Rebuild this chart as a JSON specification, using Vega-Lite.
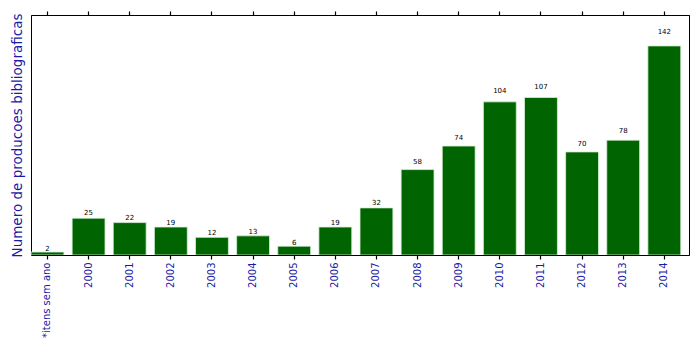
{
  "$schema": "https://vega.github.io/schema/vega-lite/v6.json",
  "width": 658,
  "height": 240,
  "padding": {"left": 31, "top": 15, "right": 10, "bottom": 99},
  "autosize": {"type": "none"},
  "config": {
    "view": {"stroke": "black", "strokeWidth": 1},
    "font": "DejaVu Sans"
  },
  "data": {
    "values": [
      {"ano": "*itens sem ano", "n": 2},
      {"ano": "2000", "n": 25},
      {"ano": "2001", "n": 22},
      {"ano": "2002", "n": 19},
      {"ano": "2003", "n": 12},
      {"ano": "2004", "n": 13},
      {"ano": "2005", "n": 6},
      {"ano": "2006", "n": 19},
      {"ano": "2007", "n": 32},
      {"ano": "2008", "n": 58},
      {"ano": "2009", "n": 74},
      {"ano": "2010", "n": 104},
      {"ano": "2011", "n": 107},
      {"ano": "2012", "n": 70},
      {"ano": "2013", "n": 78},
      {"ano": "2014", "n": 142}
    ]
  },
  "resolve": {"axis": {"x": "independent"}},
  "layer": [
    {
      "mark": {"type": "bar", "color": "#006400", "stroke": "#d8f0d8", "strokeWidth": 0.8},
      "encoding": {
        "x": {
          "field": "ano", "type": "nominal", "sort": null,
          "scale": {"paddingInner": 0.2, "paddingOuter": 0.1, "align": 0},
          "axis": {
            "title": null, "labelAngle": -90, "labelColor": "#1a1aa8", "labelFontSize": 10,
            "ticks": true, "tickColor": "black", "tickWidth": 1.2, "tickSize": 4, "labelPadding": 3,
            "domainColor": "black", "labelBaseline": "middle", "zindex": 1, "orient": "bottom"
          }
        },
        "y": {
          "field": "n", "type": "quantitative",
          "scale": {"domain": [0, 163], "nice": false},
          "axis": {
            "title": "Numero de producoes bibliograficas", "titleColor": "#1a1aa8",
            "titleFontSize": 13.5, "titleFontWeight": "normal", "titlePadding": 7,
            "labels": false, "ticks": false, "grid": false, "domain": false
          }
        }
      }
    },
    {
      "transform": [{"calculate": "datum.n * 1.05", "as": "pos"}],
      "mark": {"type": "text", "fontSize": 7, "baseline": "alphabetic", "color": "black", "dy": -1},
      "encoding": {
        "x": {
          "field": "ano", "type": "nominal", "sort": null,
          "axis": {
            "title": null, "labels": false, "ticks": true, "tickColor": "black", "tickWidth": 1.2,
            "tickSize": 4, "domainColor": "black", "orient": "top", "zindex": 1
          }
        },
        "y": {"field": "pos", "type": "quantitative"},
        "text": {"field": "n", "type": "quantitative"}
      }
    }
  ]
}
